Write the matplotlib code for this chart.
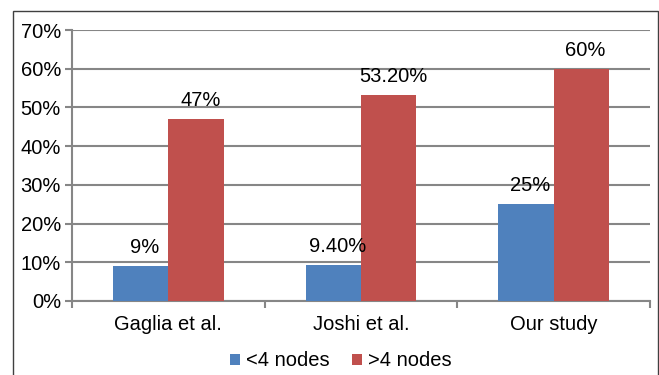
import matplotlib
matplotlib.use('Agg')
import matplotlib.pyplot as plt
import numpy as np
from matplotlib.patches import Rectangle

plt.rcParams['font.family'] = ['Liberation Sans', 'DejaVu Sans']

categories = ['Gaglia et al.', 'Joshi et al.', 'Our study']
series_names = ['<4 nodes', '>4 nodes']
below4 = [9.0, 9.4, 25.0]
above4 = [47.0, 53.2, 60.0]
labels_below = ['9%', '9.40%', '25%']
labels_above = ['47%', '53.20%', '60%']
colors = ['#4F81BD', '#C0504D']
grid_color = '#868686'
fs = 14.5

fig = plt.figure(figsize=(6.59, 3.75), dpi=100)
# outer chart frame
fig.patches.append(Rectangle((13 / 659, -0.05), 645 / 659, 1.05 - 11 / 375,
                             transform=fig.transFigure, fill=False,
                             edgecolor='#404040', linewidth=1.0))
ax = fig.add_axes([72 / 659, 1 - 301 / 375, (650 - 72) / 659, (301 - 30) / 375])

x = np.arange(len(categories))
w = 0.288
b1 = ax.bar(x - w / 2, below4, w, color=colors[0], label=series_names[0], zorder=3)
b2 = ax.bar(x + w / 2, above4, w, color=colors[1], label=series_names[1], zorder=3)

for bars, texts in [(b1, labels_below), (b2, labels_above)]:
    for rect, txt in zip(bars, texts):
        ax.annotate(txt, (rect.get_x() + rect.get_width() / 2, rect.get_height()),
                    xytext=(3, 6.5), textcoords='offset points',
                    ha='center', va='bottom', fontsize=fs, zorder=4)

ax.set_xlim(-0.5, len(categories) - 0.5)
ax.set_ylim(0, 70)
ax.set_yticks(np.arange(0, 71, 10))
ax.set_yticklabels([f'{v}%' for v in range(0, 71, 10)], fontsize=fs)
ax.yaxis.grid(True, color=grid_color, linewidth=1.5, zorder=0)
ax.set_axisbelow(True)

ax.set_xticks(x)
ax.set_xticklabels(categories, fontsize=fs)
ax.tick_params(axis='x', length=0, pad=10)
ax.set_xticks(np.arange(-0.5, len(categories), 1), minor=True)
ax.tick_params(axis='x', which='minor', length=5, color=grid_color, width=1.5)
ax.tick_params(axis='y', length=5, color=grid_color, width=1.5, pad=3)

for side in ['top', 'right']:
    ax.spines[side].set_visible(False)
for side in ['left', 'bottom']:
    ax.spines[side].set_color(grid_color)
    ax.spines[side].set_linewidth(1.5)

fig.legend(handles=[b1, b2], labels=series_names, loc='center',
           bbox_to_anchor=(341 / 659, 1 - 361 / 375), ncol=2, frameon=False,
           fontsize=fs, handlelength=0.5, handleheight=0.5, handletextpad=0.3,
           columnspacing=1.1)

fig.savefig('out.png', dpi=100)
